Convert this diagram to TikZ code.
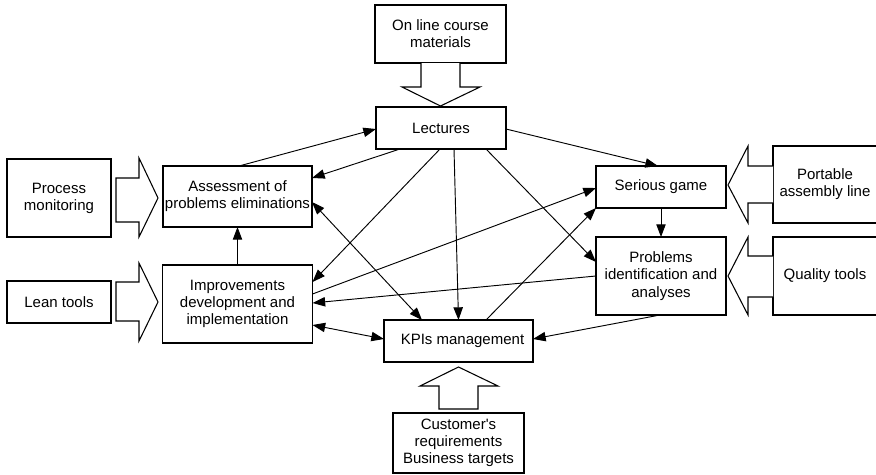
\documentclass[tikz,border=0pt]{standalone}
\usepackage{fontspec}
% plain family without TeX ligature mapping, so ' stays a straight quote
\newfontfamily\labelfont{Liberation Sans}
\usetikzlibrary{arrows.meta,calc}

\tikzset{
  box/.style n args={2}{draw=black, line width=0.8pt, fill=white, rectangle,
    inner sep=0pt, outer sep=0pt, align=center,
    minimum width=#1*0.75pt, minimum height=#2*0.75pt,
    font=\labelfont\fontsize{11.25pt}{12.9pt}\selectfont},
  link/.style={draw=black, line width=0.7pt, -{Triangle[length=9.5pt,width=7pt]}},
  twoway/.style={draw=black, line width=0.7pt, {Triangle[length=9.5pt,width=7pt]}-{Triangle[length=9.5pt,width=7pt]}},
  bigarrow/.style={draw=black, line width=0.8pt, fill=white, line join=miter}
}

\begin{document}
\begin{tikzpicture}[x=0.75pt, y=-0.75pt]
\useasboundingbox (0,0) rectangle (876,475);

% boxes
\node[box={131}{58}] (olc) at (440.5,34) {On line course\\materials};
\node[box={130}{42}] (lec) at (441,128) {Lectures};
\node[box={149}{61}] (ass) at (237.5,196.5) {Assessment of\\problems eliminations};
\node[box={104}{78}] (pm) at (59,198) {Process\\monitoring};
\node[box={150}{78}] (imp) at (237.5,304) {Improvements\\development and\\implementation};
\node[box={104}{42}] (lean) at (59,302) {Lean tools};
\node[box={130}{42}] (sg) at (661,187) {Serious game};
\node[box={104}{77}] (pal) at (825,184.5) {Portable\\assembly line};
\node[box={130}{78}] (pia) at (661,276) {Problems\\identification and\\analyses};
\node[box={104}{78}] (qt) at (825,276) {Quality tools};
\node[box={149}{42}] (kpi) at (458.5,341) {\hspace*{6pt}KPIs management};
\node[box={131}{60}] (cus) at (458.5,443) {Customer's\\requirements\\Business targets};

% wide hollow arrows feeding the boxes
\draw[bigarrow] (421,63) -- (421,87) -- (402,87) -- (440.5,106) -- (480,87) -- (460,87) -- (460,63);
\draw[bigarrow] (116,178) -- (139,178) -- (139,158) -- (158,198) -- (139,237) -- (139,222) -- (116,222) -- cycle;
\draw[bigarrow] (116,282) -- (139,282) -- (139,263) -- (158,302) -- (139,341) -- (139,321) -- (116,321) -- cycle;
\draw[bigarrow] (773,166) -- (748,166) -- (748,146) -- (728,185) -- (748,223) -- (748,203) -- (773,203);
\draw[bigarrow] (773,256) -- (748,256) -- (748,237) -- (728,276) -- (748,315) -- (748,297) -- (773,297);
\draw[bigarrow] (439,409) -- (439,386) -- (420,386) -- (458.5,367) -- (498,386) -- (478,386) -- (478,409) -- cycle;

% connectors
\draw[link] ($(ass.north)+(1.5,0)$) -- ($(lec.west)+(0,1)$);
\draw[link] ($(lec.south)+(-41,0)$) -- ($(ass.east)+(0,-18.5)$);
\draw[link] ($(lec.south)+(-1,0)$) -- ($(imp.east)+(0,-22)$);
\draw[link] ($(lec.south)+(13,0)$) -- (kpi.north);
\draw[link] ($(lec.south)+(45,0)$) -- ($(pia.west)+(0,-14)$);
\draw[link] ($(lec.east)+(0,1)$) -- ($(sg.north)+(-3,0)$);
\draw[link] ($(imp.east)+(0,-10)$) -- ($(sg.west)+(0,1)$);
\draw[link] (pia.west) -- ($(imp.east)+(0,-1)$);
\draw[link] ($(kpi.north)+(27.5,0)$) -- (sg.south west);
\draw[link] ($(pia.south)+(-1,0)$) -- ($(kpi.east)+(0,-2)$);
\draw[twoway] ($(imp.east)+(0,21)$) -- ($(kpi.west)+(0,-2)$);
\draw[twoway] ($(ass.east)+(0,5.5)$) -- ($(kpi.north)+(-36.5,0)$);
\draw[link] (imp.north) -- (ass.south);
\draw[link] (sg.south) -- (pia.north);
\end{tikzpicture}
\end{document}
